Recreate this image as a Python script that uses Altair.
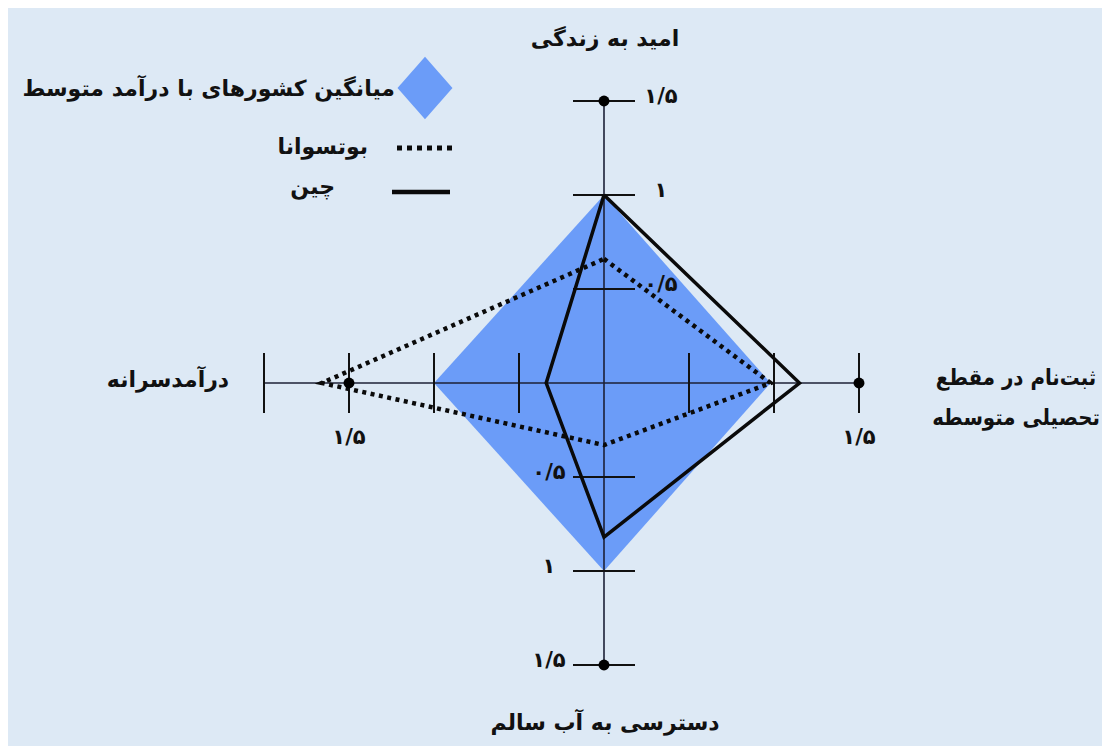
import altair as alt
import pandas as pd

# ---------------- data ----------------
axis_names = ["امید به زندگی", "ثبت\u200cنام در مقطع\nتحصیلی متوسطه", "دسترسی به آب سالم", "درآمدسرانه"]
axis_keys = ["top", "right", "bottom", "left"]
axis_lengths = [1.5, 1.5, 1.5, 2.0]
tick_values = [0.5, 1.0, 1.5, 2.0]
dot_value = 1.5

series_names = ["میانگین کشورهای با درآمد متوسط", "بوتسوانا", "چین"]
middle_income = [1.0, 0.98, 1.0, 1.0]   # top, right, bottom, left
botswana = [0.66, 0.98, 0.33, 1.66]
china = [1.0, 1.15, 0.82, 0.34]

tick_label_values = [0.5, 1.0, 1.5]
tick_label_texts = ["۰/۵", "۱", "۱/۵"]
side_label_value = 1.5
side_label_text = "۱/۵"

# ---------------- geometry helpers ----------------
DIRS = {"top": (0, 1), "right": (1, 0), "bottom": (0, -1), "left": (-1, 0)}


def pt(key, v):
    dx, dy = DIRS[key]
    return dx * v, dy * v


W, H = 1094, 738
CX, CY = 596, 375
UX, UY = 170.0, 188.0
xs = alt.Scale(domain=[-CX / UX, (W - CX) / UX], nice=False, zero=False)
ys = alt.Scale(domain=[-(H - CY) / UY, CY / UY], nice=False, zero=False)
X = lambda f: alt.X(f, type="quantitative", scale=xs, axis=None)
Y = lambda f: alt.Y(f, type="quantitative", scale=ys, axis=None)

# axis lines
axis_rows = []
for k, L in zip(axis_keys, axis_lengths):
    x2, y2 = pt(k, L)
    axis_rows.append({"x": 0.0, "y": 0.0, "x2": x2, "y2": y2})
axis_df = pd.DataFrame(axis_rows)

# ticks
HX, HY = 31 / UX, 30 / UY
tick_rows = []
for k, L in zip(axis_keys, axis_lengths):
    for v in tick_values:
        if v <= L + 1e-9:
            x, y = pt(k, v)
            if k in ("top", "bottom"):
                tick_rows.append({"x": x - HX, "x2": x + HX, "y": y, "y2": y})
            else:
                tick_rows.append({"x": x, "x2": x, "y": y - HY, "y2": y + HY})
tick_df = pd.DataFrame(tick_rows)

dot_df = pd.DataFrame([dict(zip(["x", "y"], pt(k, dot_value))) for k in axis_keys])

# middle income filled diamond (as area between upper and lower boundary)
mi = dict(zip(axis_keys, middle_income))
area_df = pd.DataFrame({
    "x": [-mi["left"], 0.0, mi["right"]],
    "y": [0.0, mi["top"], 0.0],
    "y2": [0.0, -mi["bottom"], 0.0],
})


def poly(vals, name):
    rows = []
    for i, k in enumerate(axis_keys + [axis_keys[0]]):
        v = vals[axis_keys.index(k)]
        x, y = pt(k, v)
        rows.append({"x": x, "y": y, "o": i, "s": name})
    return pd.DataFrame(rows)


bots_df = poly(botswana, series_names[1])
china_df = poly(china, series_names[2])

FONT = "DejaVu Sans"
AX_COL = "#1c2036"
BLUE = "#6b9cf8"

area = alt.Chart(area_df).mark_area(color=BLUE, opacity=1).encode(
    x=X("x"), y=Y("y"), y2="y2")

axes = alt.Chart(axis_df).mark_rule(color=AX_COL, strokeWidth=1.6).encode(
    x=X("x"), y=Y("y"), x2="x2", y2="y2")

ticks = alt.Chart(tick_df).mark_rule(color="#111111", strokeWidth=2).encode(
    x=X("x"), y=Y("y"), x2="x2", y2="y2")

dots = alt.Chart(dot_df).mark_circle(color="black", size=120, opacity=1).encode(
    x=X("x"), y=Y("y"))

bots = alt.Chart(bots_df).mark_line(color="#0a0a0a", strokeWidth=4.5, strokeDash=[4, 4.5],
                                    strokeCap="butt").encode(
    x=X("x"), y=Y("y"), order="o:Q")

chin = alt.Chart(china_df).mark_line(color="#0a0a0a", strokeWidth=3.5, strokeJoin="miter").encode(
    x=X("x"), y=Y("y"), order="o:Q")


# tick labels
def tl_df(key):
    rows = []
    for v, t in zip(tick_label_values, tick_label_texts):
        x, y = pt(key, v)
        rows.append({"x": x, "y": y, "t": t})
    return pd.DataFrame(rows)


num_style = dict(font=FONT, fontSize=21, fontWeight="bold", color="#111111", align="center", baseline="middle")
top_lab = alt.Chart(tl_df("top")).mark_text(dx=57, dy=-4, **num_style).encode(x=X("x"), y=Y("y"), text="t")
bot_lab = alt.Chart(tl_df("bottom")).mark_text(dx=-55, dy=-4, **num_style).encode(x=X("x"), y=Y("y"), text="t")
side_df = pd.DataFrame([dict(zip(["x", "y"], pt(k, side_label_value)), t=side_label_text) for k in ("left", "right")])
side_lab = alt.Chart(side_df).mark_text(dy=55, **num_style).encode(x=X("x"), y=Y("y"), text="t")

# axis name labels, anchored at the axis ends
name_style = dict(font=FONT, fontSize=22, fontWeight="bold", color="#111111", align="center", baseline="middle")
end = {k: pt(k, L) for k, L in zip(axis_keys, axis_lengths)}
names = dict(zip(axis_keys, axis_names))
name_layers = []
offsets = {"top": (1, -62), "right": (157, -5), "bottom": (1, 58), "left": (-96, -3)}
for k in axis_keys:
    x, y = end[k]
    d = pd.DataFrame({"x": [x], "y": [y], "t": [names[k]]})
    style = dict(name_style)
    if "\n" in names[k]:
        style.update(lineBreak="\n", lineHeight=40, fontSize=22,
                     font="'DejaVu Sans Condensed', 'DejaVu Sans'")
    dx, dy = offsets[k]
    name_layers.append(alt.Chart(d).mark_text(dx=dx, dy=dy, **style).encode(
        x=X("x"), y=Y("y"), text="t"))

# legend (drawn by hand, right-to-left)
leg_df = pd.DataFrame({"t": series_names})
leg_sym = alt.Chart(leg_df.iloc[[0]]).mark_point(
    shape="M0,-1L0.88,0L0,1L-0.88,0Z", filled=True, fill=BLUE, stroke=None, size=3900, opacity=1
).encode(x=alt.value(417), y=alt.value(80))
leg_dot = alt.Chart(leg_df.iloc[[1]]).mark_rule(color="#0a0a0a", strokeWidth=5, strokeDash=[5, 5]).encode(
    x=alt.value(389), x2=alt.value(447), y=alt.value(140))
leg_sol = alt.Chart(leg_df.iloc[[2]]).mark_rule(color="#0a0a0a", strokeWidth=4.5).encode(
    x=alt.value(384), x2=alt.value(442), y=alt.value(184))
leg_style = dict(font=FONT, fontSize=22, fontWeight="bold", color="#111111", align="right", baseline="middle")
leg_t0 = alt.Chart(leg_df.iloc[[0]]).mark_text(**leg_style).encode(x=alt.value(387), y=alt.value(81), text="t")
leg_t1 = alt.Chart(leg_df.iloc[[1]]).mark_text(**leg_style).encode(x=alt.value(360), y=alt.value(139), text="t")
leg_t2 = alt.Chart(leg_df.iloc[[2]]).mark_text(**leg_style).encode(x=alt.value(327), y=alt.value(179), text="t")

chart = alt.layer(
    area, axes, ticks, bots, chin, dots,
    top_lab, bot_lab, side_lab, *name_layers,
    leg_sym, leg_dot, leg_sol, leg_t0, leg_t1, leg_t2,
).properties(
    width=W, height=H, padding=0, autosize=alt.AutoSizeParams(type="none"),
    background="#dde9f5",
).configure_view(stroke=None)

chart.save("out.html", embed_options={"renderer": "svg", "actions": False})
